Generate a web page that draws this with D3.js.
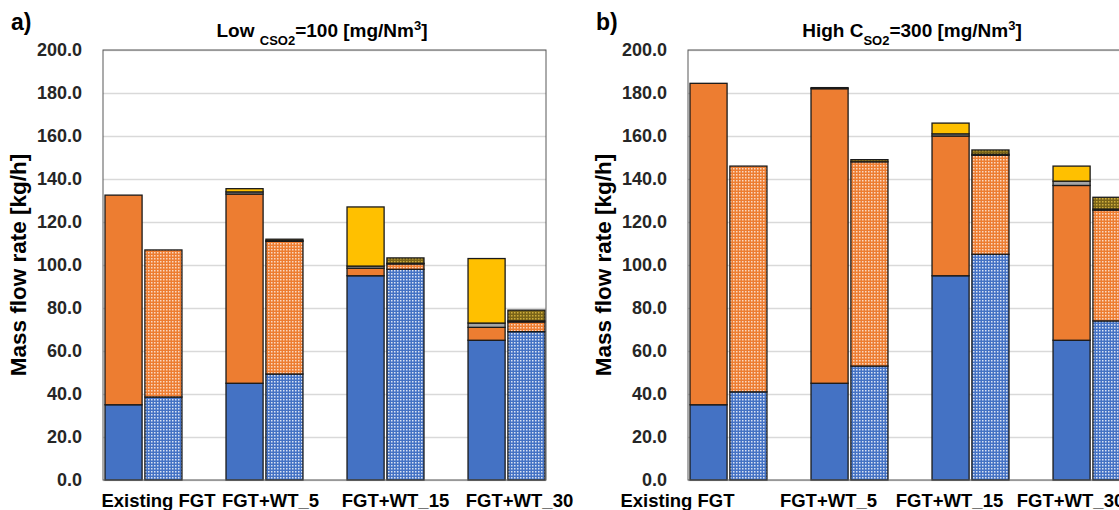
<!DOCTYPE html>
<html>
<head>
<meta charset="utf-8">
<script src="https://cdn.jsdelivr.net/npm/d3@7"></script>
<style>
  body { margin: 0; background: #fff; }
  svg { display: block; font-family: "Liberation Sans", Arial, sans-serif; }
  .tick text { font-weight: bold; font-size: 18px; fill: #262626; }
</style>
</head>
<body>
<svg id="chart" width="1119" height="510"></svg>
<script>
// categories and y ticks
var categories = ["Existing FGT", "FGT+WT_5", "FGT+WT_15", "FGT+WT_30"];
var yTicks = [0, 20, 40, 60, 80, 100, 120, 140, 160, 180, 200];

// Low C_SO2 = 100, solid bars (bottom -> top)
var lowSolidBlue   = [35, 45, 95, 65];
var lowSolidOrange = [97.5, 88, 3.5, 6];
var lowSolidGray   = [0, 1, 1, 2];
var lowSolidYellow = [0, 1.5, 27.5, 30];
// Low C_SO2 = 100, dotted bars
var lowHatchBlue   = [38.6, 49.3, 98, 69];
var lowHatchOrange = [68.4, 61.7, 2.5, 4.5];
var lowHatchGray   = [0, 0.3, 0.3, 0.5];
var lowHatchYellow = [0, 0.7, 2.5, 5];

// High C_SO2 = 300, solid bars
var highSolidBlue   = [35, 45, 95, 65];
var highSolidOrange = [149.5, 137, 65, 72];
var highSolidGray   = [0, 0.5, 1, 2];
var highSolidYellow = [0, 0, 5, 7];
// High C_SO2 = 300, dotted bars
var highHatchBlue   = [41, 53, 105, 74];
var highHatchOrange = [105, 95, 46, 51.5];
var highHatchGray   = [0, 0, 0.5, 0.5];
var highHatchYellow = [0, 1, 2, 5.5];

var svg = d3.select("#chart");

// dotted fills
var defs = svg.append("defs");
function dotted(id, base, dot, op) {
	var p = defs.append("pattern")
		.attr("id", id)
		.attr("patternUnits", "userSpaceOnUse")
		.attr("width", 3).attr("height", 3);
	p.append("rect").attr("width", 3).attr("height", 3).attr("fill", base);
	p.append("rect").attr("x", 0).attr("y", 0)
		.attr("width", 1.5).attr("height", 1.5)
		.attr("fill", dot).attr("opacity", op);
}
dotted("hBlue", "#4472C4", "#ffffff", 0.8);
dotted("hOrange", "#ED7D31", "#ffffff", 0.7);
dotted("hGray", "#A5A5A5", "#ffffff", 0.7);
dotted("hYellow", "#7a6418", "#d9b640", 0.9);

var solidFills = ["#4472C4", "#ED7D31", "#A5A5A5", "#FFC000"];
var hatchFills = ["url(#hBlue)", "url(#hOrange)", "url(#hGray)", "url(#hYellow)"];

var plotW = 443, plotTop = 50, plotBottom = 480;

var y = d3.scaleLinear().domain([0, 200]).range([plotBottom, plotTop]);

function stackRows(arrs) {
	return categories.map(function(c, i) {
		var row = { cat: c };
		arrs.forEach(function(a, k) { row["s" + k] = a[i]; });
		return row;
	});
}

function drawPanel(left, panel) {
	var g = svg.append("g").attr("transform", "translate(" + left + ",0)");

	var x = d3.scaleBand().domain(categories)
		.range([2, plotW - 1]).paddingInner(0.364).paddingOuter(0);
	var sub = d3.scaleBand().domain(["solid", "hatch"])
		.range([0, x.bandwidth()]).paddingInner(0.07);

	// gridlines
	g.append("g")
		.call(d3.axisLeft(y).tickValues(yTicks).tickSize(-plotW).tickFormat(""))
		.call(function(a) {
			a.select(".domain").remove();
			a.selectAll("line").attr("stroke", "#d9d9d9").attr("stroke-width", 1.5);
		});

	// tick labels
	g.append("g")
		.attr("transform", "translate(-18,0)")
		.call(d3.axisLeft(y).tickValues(yTicks).tickSize(0).tickFormat(d3.format(".1f")))
		.call(function(a) { a.select(".domain").remove(); });

	var keys = ["s0", "s1", "s2", "s3"];
	[["solid", panel.solid, solidFills], ["hatch", panel.hatch, hatchFills]].forEach(function(set) {
		var stacked = d3.stack().keys(keys)(stackRows(set[1]));
		stacked.forEach(function(layer, k) {
			g.append("g").selectAll("rect")
				.data(layer.filter(function(d) { return d[1] - d[0] > 0; }))
				.join("rect")
				.attr("x", function(d) { return x(d.data.cat) + sub(set[0]); })
				.attr("width", sub.bandwidth())
				.attr("y", function(d) { return y(d[1]); })
				.attr("height", function(d) { return y(d[0]) - y(d[1]); })
				.attr("fill", set[2][k])
				.attr("stroke", "#1a1a1a")
				.attr("stroke-width", 1.3);
		});
	});

	// plot frame
	g.append("rect")
		.attr("x", 0).attr("y", plotTop)
		.attr("width", plotW).attr("height", plotBottom - plotTop)
		.attr("fill", "none").attr("stroke", "#595959").attr("stroke-width", 1);

	// category labels
	g.append("g").selectAll("text")
		.data(categories)
		.join("text")
		.attr("x", function(d, i) { return x(d) + x.bandwidth() / 2 + panel.labelShift[i]; })
		.attr("y", 507)
		.attr("text-anchor", "middle")
		.attr("font-size", 18.5).attr("font-weight", "bold").attr("fill", "#000")
		.text(function(d) { return d; });

	// y title
	g.append("text")
		.attr("transform", "translate(-77," + (plotTop + plotBottom) / 2 + ") rotate(-90)")
		.attr("text-anchor", "middle")
		.attr("font-size", 22.5).attr("font-weight", "bold").attr("fill", "#000")
		.text("Mass flow rate [kg/h]");

	// panel letter
	svg.append("text")
		.attr("x", left - 92).attr("y", 30)
		.attr("font-size", 23).attr("font-weight", "bold")
		.text(panel.letter);

	// title with sub/superscripts
	var t = svg.append("text")
		.attr("x", panel.titleX).attr("y", 37)
		.attr("text-anchor", "middle")
		.attr("font-size", 19).attr("font-weight", "bold");
	panel.title.forEach(function(p) {
		var s = t.append("tspan").text(p[0]);
		if (p[1] == "sub") s.attr("baseline-shift", "sub").attr("font-size", 13);
		if (p[1] == "sup") s.attr("baseline-shift", "super").attr("font-size", 13);
	});
}

drawPanel(103, {
	letter: "a)",
	titleX: 322,
	title: [["Low "], ["CSO2", "sub"], ["=100 [mg/Nm"], ["3", "sup"], ["]"]],
	solid: [lowSolidBlue, lowSolidOrange, lowSolidGray, lowSolidYellow],
	hatch: [lowHatchBlue, lowHatchOrange, lowHatchGray, lowHatchYellow],
	labelShift: [15, 6, 10, 13]
});

drawPanel(688, {
	letter: "b)",
	titleX: 912,
	title: [["High C"], ["SO2", "sub"], ["=300 [mg/Nm"], ["3", "sup"], ["]"]],
	solid: [highSolidBlue, highSolidOrange, highSolidGray, highSolidYellow],
	hatch: [highHatchBlue, highHatchOrange, highHatchGray, highHatchYellow],
	labelShift: [-51, -21, -21, -21]
});
</script>
</body>
</html>
